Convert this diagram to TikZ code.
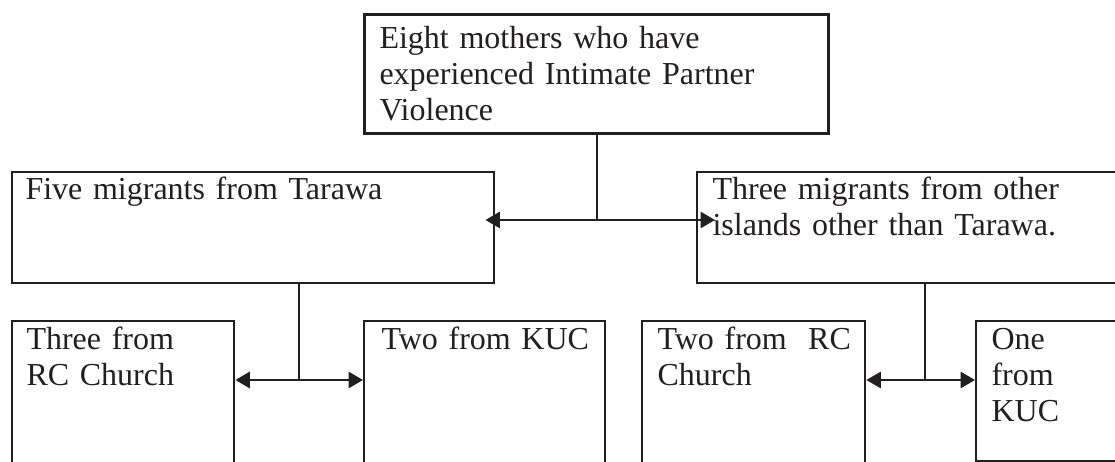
\documentclass[tikz,border=0pt]{standalone}
\usepackage{fontspec}
\setmainfont{Liberation Serif}
\usetikzlibrary{
  arrows.meta,
  positioning,
  calc
}
\definecolor{inkgray}{RGB}{35,31,32}
\tikzset{
  mbox/.style={draw=inkgray, line width=0.9pt, inner sep=0pt,
    anchor=north west},
  mtext/.style={inner sep=0pt, anchor=base west, text width=150pt,
    align=left, text=inkgray, font=\fontsize{12}{13.5}\selectfont},
  link/.style={draw=inkgray, line width=0.8pt},
  arr/.style={-{Triangle[length=5.4pt, width=6pt]}, draw=inkgray,
    line width=1pt},
}

\begin{document}
\begin{tikzpicture}[x=0.375pt, y=-0.375pt]
  \useasboundingbox (0,0) rectangle (1115,462);
  \clip (0,0) rectangle (1115,462);
  \fill[white] (0,0) rectangle (1115,462);

  % Boxes
  \node[mbox, line width=1.3pt, minimum width=174pt, minimum height=44.6pt]
    (mothers) at (363,13) {};
  \node[mbox, minimum width=180.75pt, minimum height=41.6pt]
    (tarawa) at (11,171) {};
  \node[mbox, minimum width=160.9pt, minimum height=41.6pt]
    (others) at (696,171) {};
  \node[mbox, minimum width=83.25pt, minimum height=56.25pt]
    (rcA) at (11,320) {};
  \node[mbox, minimum width=90.4pt, minimum height=56.25pt]
    (kucA) at (363,320) {};
  \node[mbox, minimum width=83.6pt, minimum height=56.25pt]
    (rcB) at (641,320) {};
  \node[mbox, minimum width=56.25pt, minimum height=52.5pt]
    (kucB) at (975,320) {};

  % Texts
  \node[mtext] (tMothers) at ([shift={(16,36)}]mothers.north west)
    {Eight mothers who have\\experienced Intimate Partner\\Violence};
  \node[mtext] (tTarawa) at ([shift={(14,29)}]tarawa.north west)
    {Five migrants from Tarawa};
  \node[mtext] (tOthers) at ([shift={(16,29)}]others.north west)
    {Three migrants from other\\islands other than Tarawa.};
  \node[mtext] (tRcA) at ([shift={(15,30)}]rcA.north west)
    {Three from\\RC Church};
  \node[mtext] (tKucA) at ([shift={(18,30)}]kucA.north west)
    {Two from KUC};
  \node[mtext] (tRcB) at ([shift={(16,30)}]rcB.north west)
    {Two from\ \ RC\\Church};
  \node[mtext] (tKucB) at ([shift={(16,30)}]kucB.north west)
    {One\\from\\KUC};

  % Junctions
  \coordinate (j1) at (mothers.south |- 0,220);
  \coordinate (j2) at (299,380);
  \coordinate (j3) at (925,380);

  % Connectors
  \draw[link] (mothers.south) -- (j1);
  \draw[arr] (j1) -- ($(tarawa.east |- j1)+(-10,0)$);
  \draw[arr] (j1) -- ($(others.west |- j1)+(19,0)$);

  \draw[link] (j2 |- tarawa.south) -- (j2);
  \draw[arr] (j2) -- (rcA.east |- j2);
  \draw[arr] (j2) -- (kucA.west |- j2);

  \draw[link] (j3 |- others.south) -- (j3);
  \draw[arr] (j3) -- (rcB.east |- j3);
  \draw[arr] (j3) -- (kucB.west |- j3);
\end{tikzpicture}
\end{document}
